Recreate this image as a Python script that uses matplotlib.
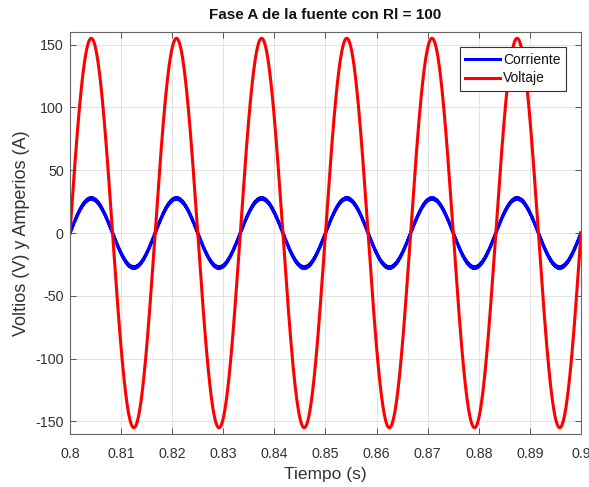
import numpy as np
import matplotlib
matplotlib.use('Agg')
import matplotlib.pyplot as plt

plt.rcParams['font.family'] = ['Liberation Sans', 'DejaVu Sans']
plt.rcParams['axes.unicode_minus'] = False

# values
t_start, t_end = 0.8, 0.9
freq_hz = 60.0          # 6 full cycles between 0.8 s and 0.9 s
volt_peak = 155.0
curr_peak = 27.5
curr_ripple = 0.7       # small high-frequency ripple on the current trace
ripple_hz = 5000.0

x_ticks = [0.8, 0.81, 0.82, 0.83, 0.84, 0.85, 0.86, 0.87, 0.88, 0.89, 0.9]
x_tick_labels = ['0.8', '0.81', '0.82', '0.83', '0.84', '0.85', '0.86', '0.87', '0.88', '0.89', '0.9']
y_ticks = [-150, -100, -50, 0, 50, 100, 150]

t = np.linspace(t_start, t_end, 6000)
phase = 2 * np.pi * freq_hz * (t - t_start)
voltaje = volt_peak * np.sin(phase)
corriente = curr_peak * np.sin(phase) + curr_ripple * np.sin(2 * np.pi * ripple_hz * t)

txt = '#333333'
fig = plt.figure(figsize=(5.89, 4.87), dpi=100)
ax = fig.add_axes([0.1188, 0.1088, 0.8676, 0.8255])

ax.plot(t, corriente, color='#0000ff', lw=2.2, label='Corriente')
ax.plot(t, voltaje, color='#ff0000', lw=2.2, label='Voltaje')

ax.set_xlim(t_start, t_end)
ax.set_ylim(-160, 160)
ax.set_xticks(x_ticks)
ax.set_xticklabels(x_tick_labels)
ax.set_yticks(y_ticks)
ax.grid(True, color='#dedede', lw=0.6)
ax.set_axisbelow(True)

ax.tick_params(direction='in', length=4, width=0.7, colors='#555555',
               labelsize=10.3, top=True, right=True, labelcolor=txt)
ax.tick_params(axis='x', pad=9.5)
ax.tick_params(axis='y', pad=4.5)
for s in ax.spines.values():
    s.set_color('#666666')
    s.set_linewidth(0.8)

ax.set_xlabel('Tiempo (s)', fontsize=12.5, color=txt, labelpad=4)
ax.set_ylabel('Voltios (V) y Amperios (A)', fontsize=13, color=txt, labelpad=4)
ax.set_title('Fase A de la fuente con Rl = 100', fontsize=11, fontweight='bold',
             color='#111111', pad=9.5)

leg = ax.legend(loc='upper right', fontsize=10, frameon=True, fancybox=False,
                edgecolor='#333333', handlelength=2.5, handletextpad=0.2,
                borderaxespad=0.0, bbox_to_anchor=(0.9706, 0.9627),
                borderpad=0.4, labelspacing=0.35, framealpha=1)
leg.get_frame().set_linewidth(0.8)
for tx in leg.get_texts():
    tx.set_color('#111111')

fig.savefig('out.png', dpi=100)
